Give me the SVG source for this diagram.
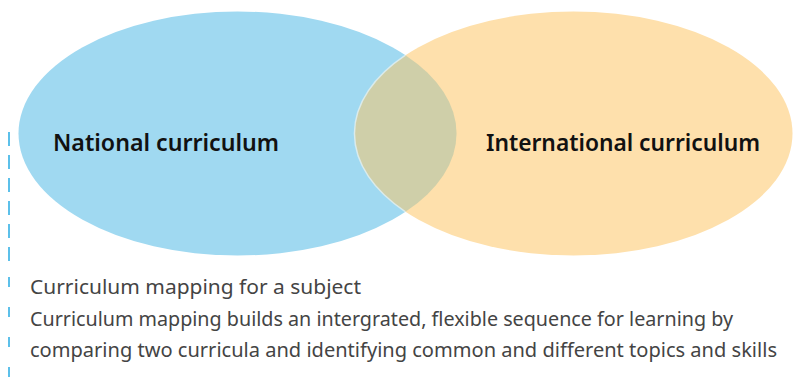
<svg xmlns="http://www.w3.org/2000/svg" width="794" height="380" viewBox="0 0 794 380">
<style>
.lbl{font-family:"Noto Sans","Open Sans","Liberation Sans",sans-serif;font-weight:600;font-size:23px;fill:#111}
.cap{font-family:"Noto Sans","Open Sans","Liberation Sans",sans-serif;font-size:20px;fill:#444}
.dash{stroke:#5cc0ea;stroke-width:2;fill:none}
</style>
<rect width="794" height="380" fill="#fff"/>
<g id="national">
<ellipse cx="237.5" cy="133.5" rx="219" ry="122" fill="#a0d9f1"/>
</g>
<g id="international">
<ellipse cx="573.5" cy="133.5" rx="219" ry="122" fill="#fee0ac"/>
</g>
<g id="overlap">
<path d="M405.5,55.2 A219,122 0 0 0 405.5,211.8 A219,122 0 0 0 405.5,55.2 Z" fill="#cfcfa9"/>
<path d="M405.5,55.2 A219,122 0 0 0 405.5,211.8" fill="none" stroke="#dff0f5" stroke-width="1.5" opacity="0.8"/>
</g>
<g id="labels">
<text class="lbl" x="53" y="151" textLength="226" lengthAdjust="spacingAndGlyphs">National curriculum</text>
<text class="lbl" x="486" y="151" textLength="274" lengthAdjust="spacingAndGlyphs">International curriculum</text>
</g>
<g id="connectors">
<line class="dash" x1="9" y1="132" x2="9" y2="262" stroke-dasharray="14 9"/>
<line class="dash" x1="9" y1="277" x2="9" y2="380" stroke-dasharray="10 20"/>
</g>
<g id="caption">
<text class="cap" x="30" y="294" textLength="331" lengthAdjust="spacingAndGlyphs">Curriculum mapping for a subject</text>
<text class="cap" x="30" y="326" textLength="703" lengthAdjust="spacingAndGlyphs">Curriculum mapping builds an intergrated, flexible sequence for learning by</text>
<text class="cap" x="30" y="357" textLength="747" lengthAdjust="spacingAndGlyphs">comparing two curricula and identifying common and different topics and skills</text>
</g>
</svg>
